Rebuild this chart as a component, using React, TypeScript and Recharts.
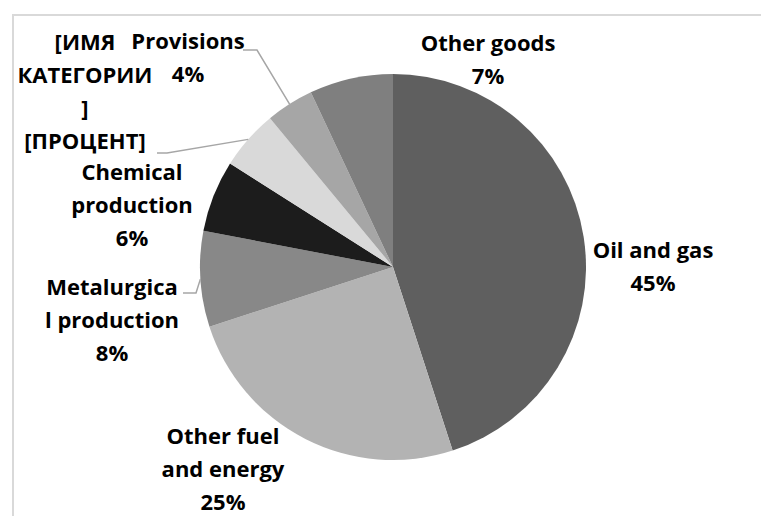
import React from 'react';
import { PieChart, Pie, Cell } from 'recharts';

// export structure, % of total
const categories = [
  'Oil and gas',
  'Other fuel and energy',
  'Metalurgical production',
  'Chemical production',
  '[ИМЯ КАТЕГОРИИ]',
  'Provisions',
  'Other goods',
];
const shares = [45, 25, 8, 6, 5, 4, 7];
const labelLines = [
  ['Oil and gas', '45%'],
  ['Other fuel', 'and energy', '25%'],
  ['Metalurgica', 'l production', '8%'],
  ['Chemical', 'production', '6%'],
  ['[ИМЯ', 'КАТЕГОРИИ', ']', '[ПРОЦЕНТ]'],
  ['Provisions', '4%'],
  ['Other goods', '7%'],
];

const colors = ['#5f5f5f', '#b3b3b3', '#888888', '#1c1c1c', '#d9d9d9', '#a6a6a6', '#7f7f7f'];

// label placement relative to pie centre: x of text centre, y of first baseline
const labelPos = [
  { dx: 260, dy: -9 },
  { dx: -170, dy: 177 },
  { dx: -281, dy: 28 },
  { dx: -261, dy: -87 },
  { dx: -308, dy: -217 },
  { dx: -205, dy: -218 },
  { dx: 95, dy: -216 },
];
// leader lines: [start x, start y, elbow x, elbow y] relative to centre, null = none
const leaders: (number[] | null)[] = [
  null,
  null,
  [-210, 26, -197, 26],
  null,
  [-236, -114, -226, -114],
  [-150, -217, -136, -217],
  null,
];

const data = categories.map((name, i) => ({ name, value: shares[i] }));

const RAD = Math.PI / 180;
const LINE_H = 33;

const renderLabel = (props: any) => {
  const { cx, cy, midAngle, outerRadius, index } = props;
  const pos = labelPos[index];
  const x = cx + pos.dx;
  const y = cy + pos.dy;
  const lead = leaders[index];
  let line = null;
  if (lead) {
    const ex = cx + outerRadius * Math.cos(-midAngle * RAD);
    const ey = cy + outerRadius * Math.sin(-midAngle * RAD);
    line = (
      <polyline
        points={`${cx + lead[0]},${cy + lead[1]} ${cx + lead[2]},${cy + lead[3]} ${ex},${ey}`}
        fill="none"
        stroke="#a6a6a6"
        strokeWidth={1.5}
      />
    );
  }
  return (
    <g key={`lbl-${index}`}>
      {line}
      <text
        x={x}
        y={y}
        textAnchor="middle"
        fill="#000"
        style={{ fontFamily: '"Open Sans", sans-serif', fontWeight: 700, fontSize: 22 }}
      >
        {labelLines[index].map((t, j) => (
          <tspan key={j} x={x} y={y + j * LINE_H}>
            {t}
          </tspan>
        ))}
      </text>
    </g>
  );
};

export default function App() {
  return (
    <div style={{ position: 'absolute', left: 0, top: 0, width: 761, height: 516, background: '#fff' }}>
      <style>{`.recharts-pie-sectors { filter: drop-shadow(0px 0px 3px rgba(0,0,0,0.3)); }`}</style>
      <div
        style={{
          position: 'absolute',
          left: 12,
          top: 14,
          width: 761,
          height: 516,
          borderLeft: '2px solid #d9d9d9',
          borderTop: '2px solid #d9d9d9',
        }}
      />
      <div style={{ position: 'absolute', left: 0, top: 0 }}>
        <PieChart width={761} height={516} margin={{ top: 0, right: 0, bottom: 0, left: 0 }}>
          <Pie
            data={data}
            dataKey="value"
            nameKey="name"
            cx={393}
            cy={267}
            outerRadius={193}
            startAngle={90}
            endAngle={-270}
            stroke="none"
            label={renderLabel}
            labelLine={false}
            isAnimationActive={false}
          >
            {data.map((d, i) => (
              <Cell key={d.name} fill={colors[i]} />
            ))}
          </Pie>
        </PieChart>
      </div>
    </div>
  );
}
